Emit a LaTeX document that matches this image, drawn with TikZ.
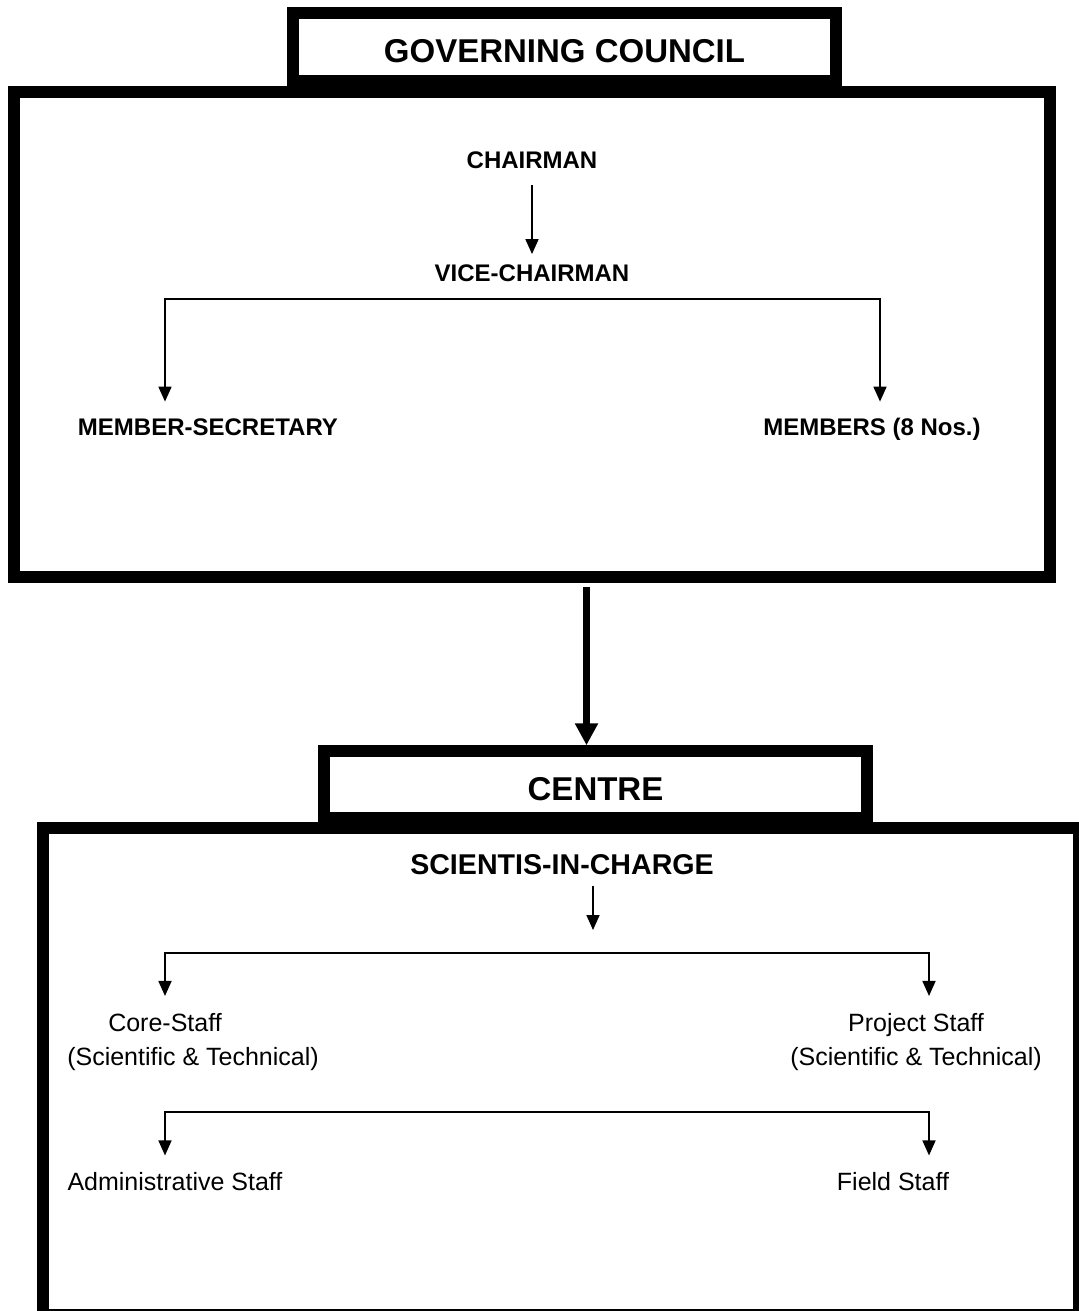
\documentclass[tikz,border=0pt]{standalone}
\usepackage{fontspec}
\setmainfont{Liberation Sans}
\usetikzlibrary{arrows.meta}

\begin{document}
\begin{tikzpicture}[x=0.5pt,y=-0.5pt,
  frame/.style={draw,line width=5.75pt,inner sep=0pt},
  head/.style={frame,fill=white,text height=15.8pt,text depth=0pt,font=\fontsize{16.5}{20}\selectfont\bfseries},
  post/.style={inner sep=0pt,font=\fontsize{12}{14}\selectfont\bfseries},
  staff/.style={inner sep=0pt,align=center,font=\fontsize{12.5}{17}\selectfont},
  link/.style={line width=0.85pt,-{Triangle[length=7.5pt,width=6.5pt]}},
  fork/.style={line width=0.85pt,{Triangle[length=7.5pt,width=6.5pt]}-{Triangle[length=7.5pt,width=6.5pt]}}]
\useasboundingbox (0,0) rectangle (1078,1311);

% governing council
\node[frame,minimum width=518pt,minimum height=242.5pt] (council) at (532,334.5) {};
\node[head,minimum width=271.5pt,minimum height=34pt] (gc) at (564.5,47) {GOVERNING COUNCIL};
\node[post] (chair) at (532,160) {CHAIRMAN};
\node[post] (vice) at (532,273) {VICE-CHAIRMAN};
\node[post] (msec) at (208,427) {MEMBER-SECRETARY};
\node[post] (memb) at (872,429) {MEMBERS (8 Nos.)};
\coordinate (b1l) at (165,299);
\coordinate (b1r) at (880,299);
\draw[link,shorten <=8pt,shorten >=5pt] (chair.south) -- (vice.north);
\draw[fork,shorten <=8.25pt,shorten >=8.25pt] (b1l |- msec.north) -- (b1l) -- (b1r) -- (b1r |- msec.north);

% centre
\node[frame,minimum width=518pt,minimum height=243.5pt] (unit) at (561,1071.5) {};
\node[head,minimum width=271.5pt,minimum height=33.5pt] (centre) at (595.5,784.5) {CENTRE};
\draw[line width=3.5pt,-{Triangle[length=11pt,width=11pt]},shorten <=2pt]
  ([xshift=-4.5pt]centre.north |- council.south) -- ([xshift=-4.5pt]centre.north);
\node[post,font=\fontsize{14.3}{17}\selectfont\bfseries] (sic) at (562,865) {SCIENTIS-IN-CHARGE};
\node[staff] (core) at (193,1042) {Core-Staff\hspace*{28pt}\\(Scientific \& Technical)};
\node[staff] (proj) at (916,1042) {Project Staff\\(Scientific \& Technical)};
\node[staff] (admin) at (175,1182) {Administrative Staff};
\node[staff] (field) at (893,1182) {Field Staff};
\coordinate (b2m) at (593,953);
\coordinate (b2l) at (165,953);
\coordinate (b2r) at (929,953);
\coordinate (b3l) at (165,1112);
\coordinate (b3r) at (929,1112);
\draw[link,shorten <=5pt,shorten >=11.5pt] (b2m |- sic.south) -- (b2m);
\draw[fork,shorten <=8.5pt,shorten >=8.5pt] (b2l |- core.north) -- (b2l) -- (b2r) -- (b2r |- core.north);
\draw[fork,shorten <=8.5pt,shorten >=8.5pt] (b3l |- admin.north) -- (b3l) -- (b3r) -- (b3r |- admin.north);
\end{tikzpicture}
\end{document}
